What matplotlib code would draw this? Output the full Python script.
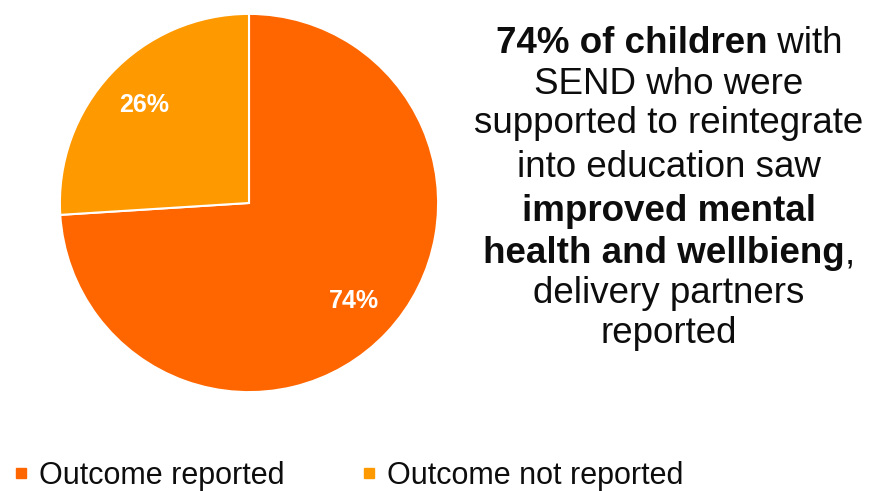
# Share of children with SEND whose mental health improved after reintegration support

import matplotlib
matplotlib.use("Agg")
from matplotlib import pyplot as plt
from matplotlib.lines import Line2D

plt.rcParams["font.family"] = ["Liberation Sans", "DejaVu Sans"]

# DATA
categories = ["Outcome reported", "Outcome not reported"]
shares = [74, 26]
colours = ["#FF6600", "#FF9900"]

# Callout text, one entry per line: list of (text, bold) pieces
callout_lines = [
    [("74% of children", True), (" with", False)],
    [("SEND who were", False)],
    [("supported to reintegrate", False)],
    [("into education saw", False)],
    [("improved mental", True)],
    [("health and wellbieng", True), (",", False)],
    [("delivery partners", False)],
    [("reported", False)],
]

W, H = 877, 491
fig = plt.figure(figsize=(W / 100, H / 100), dpi=100)

# Pie axes placed by pixel centre and radius
cx, cy, r = 249, 203, 191
ax = fig.add_axes([(cx - r) / W, (H - cy - r) / H, 2 * r / W, 2 * r / H])
wedges, texts, autotexts = ax.pie(
    shares,
    colors=colours,
    startangle=90,
    counterclock=False,
    autopct="%1.0f%%",
    pctdistance=0.76,
    wedgeprops={"edgecolor": "white", "linewidth": 1.5},
    textprops={"color": "white", "fontsize": 18, "fontweight": "bold"},
)
ax.set_xlim(-1.01, 1.01)
ax.set_ylim(-1.01, 1.01)

# Callout text on the right, each line centred (baselines in pixels from top)
renderer = fig.canvas.get_renderer()
text_cx = 669
baselines = [53, 94, 133, 177, 221, 263, 303, 343]
size = 26.5
for pieces, base in zip(callout_lines, baselines):
    y = 1 - base / H
    artists = []
    for txt, bold in pieces:
        t = fig.text(0, y, txt, fontsize=size, color="#0d0d0d",
                     fontweight="bold" if bold else "normal",
                     va="baseline", ha="left")
        artists.append(t)
    widths = [a.get_window_extent(renderer).width for a in artists]
    x = text_cx - sum(widths) / 2
    for a, w in zip(artists, widths):
        a.set_x(x / W)
        x += w

# Legend along the bottom
handles = [Line2D([], [], marker="s", linestyle="none", markersize=6.5,
                  markerfacecolor=c, markeredgecolor=c) for c in colours]
fig.legend(handles, categories, loc="lower left", bbox_to_anchor=(-0.016, -0.056),
           ncol=2, frameon=False, fontsize=22, handlelength=0.5,
           handletextpad=0.35, columnspacing=2.5, labelcolor="#0d0d0d")

fig.savefig("out.png", dpi=100, facecolor="white")
